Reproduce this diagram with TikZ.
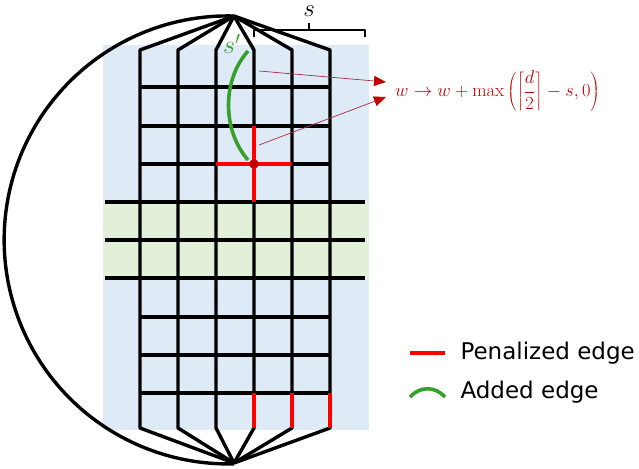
\documentclass[tikz,border=0pt]{standalone}
\usepackage{graphicx}
\usepackage{fontspec}
\newfontfamily\legendfont{DejaVu Sans}
\usetikzlibrary{arrows.meta}
\definecolor{bgblue}{RGB}{222,235,247}
\definecolor{bggreen}{RGB}{226,240,217}
\definecolor{pen}{RGB}{255,0,0}
\definecolor{darkred}{RGB}{192,0,0}
\definecolor{thinred}{RGB}{170,40,70}
\definecolor{addgreen}{RGB}{55,160,45}
\begin{document}
\begin{tikzpicture}[x=1pt,y=-1pt,
  edge/.style={line width=3.4pt, black, line join=round},
  penedge/.style={line width=3.4pt, pen},
  addedge/.style={line width=3.6pt, addgreen},
  pointer/.style={line width=0.7pt, thinred, -{Triangle[length=12pt,width=10pt,color=darkred,fill=darkred]}},
  mathlbl/.style={font=\fontsize{20.74}{24}\selectfont, inner sep=0pt, anchor=base},
  legendtxt/.style={anchor=base west, font=\legendfont\fontsize{23}{26}\selectfont}]
\useasboundingbox (0,0) rectangle (639,468);
% backgrounds
\fill[bgblue] (103,45) rectangle (369,430);
\fill[bggreen] (103,202) rectangle (369,278);
% apexes
\coordinate (top) at (234,16);
\coordinate (bot) at (234,463);
% big arc
\draw[edge] (top) arc[start angle=271.5, end angle=88.5, radius=224];
% columns
\foreach \x in {140,178,216,254,292,330}{
  \coordinate (ct\x) at (\x,50);
  \coordinate (cb\x) at (\x,428);
  \draw[edge] (top) -- (ct\x) -- (cb\x) -- (bot);
}
% rows
\foreach \y in {87,126,164,317,355,393}{
  \coordinate (rl\y) at (140,\y);
  \coordinate (rr\y) at (330,\y);
  \draw[edge] (rl\y) -- (rr\y);
}
\foreach \y in {202,240,278}{
  \coordinate (bl\y) at (105,\y);
  \coordinate (br\y) at (365,\y);
  \draw[edge] (bl\y) -- (br\y);
}
% penalized edges
\coordinate (v) at (254,164);
\draw[penedge] (254,126) -- (254,202);
\draw[penedge] (216,164) -- (292,164);
\foreach \x in {254,292,330}{
  \draw[penedge] (\x,393) -- (\x,428);
}
% added edge
\coordinate (ga) at (248,51);
\coordinate (gb) at (248,160);
\draw[addedge] (ga) .. controls (222,80) and (222,130) .. (gb);
\fill[darkred] (v) circle (4.8);
\node[mathlbl, text=addgreen] (sp) at (232,54) {\scalebox{1.25}{$s'$}};
% bracket
\draw[line width=1.6pt, line join=round] (254,37) -- (254,30) -- (365,30) -- (365,37);
\draw[line width=1.6pt] (309,30) -- (309,23);
\node[mathlbl] (s) at (309,17) {\scalebox{1.2}{$s$}};
% formula
\node[anchor=west, text=darkred, font=\fontsize{17.28}{20}\selectfont, inner sep=0pt] (form) at (395,91)
  {\scalebox{1.07}{$w \to w + \max\left(\left\lceil{\displaystyle\frac{d}{2}}\right\rceil - s, 0\right)$}};
\coordinate (p1) at (259,71);
\coordinate (t1) at (386,82);
\coordinate (p2) at (259,145);
\coordinate (t2) at (386,97);
\draw[pointer] (p1) -- (t1);
\draw[pointer] (p2) -- (t2);
% legend
\coordinate (la) at (410,353);
\coordinate (lb) at (445,353);
\draw[penedge] (la) -- (lb);
\node[legendtxt] (lp) at (457,359) {Penalized edge};
\coordinate (lc) at (410,397);
\coordinate (ld) at (445,397);
\draw[addedge] (lc) .. controls (420,386) and (435,386) .. (ld);
\node[legendtxt] (ladd) at (457,398) {Added edge};
\end{tikzpicture}
\end{document}
